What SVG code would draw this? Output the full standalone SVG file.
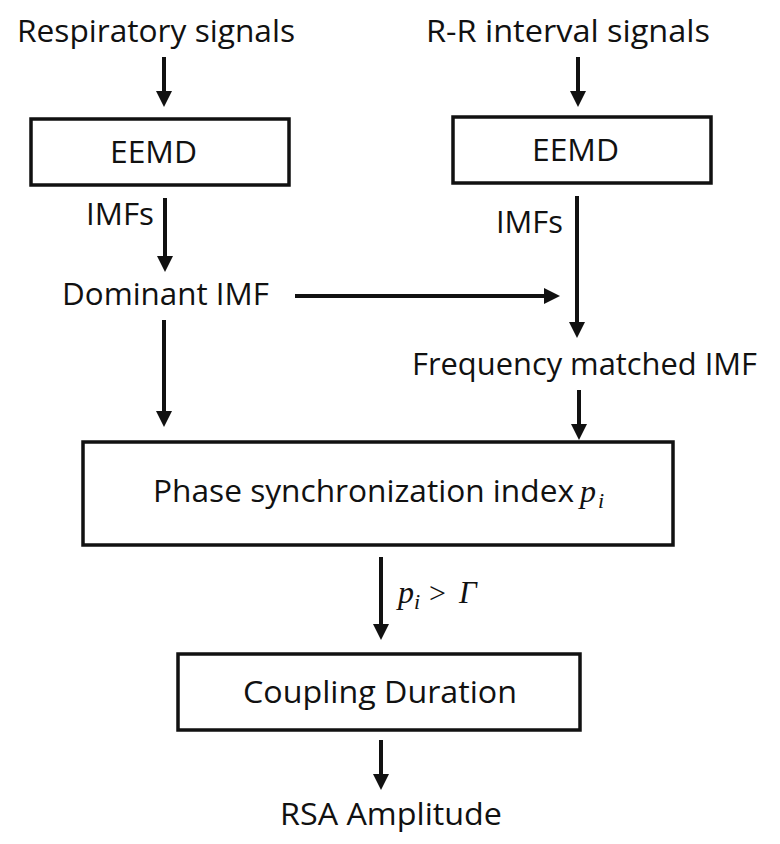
<svg xmlns="http://www.w3.org/2000/svg" width="780" height="844" viewBox="0 0 780 844">
<style>
.t{font-family:"Open Sans","Noto Sans","Liberation Sans",sans-serif;font-size:31px;fill:#111;}
.m{font-family:"Liberation Serif","DejaVu Serif",serif;font-style:italic;fill:#111;}
.box{fill:#fff;stroke:#111;stroke-width:3.5;}
.c line{stroke:#111;stroke-width:4;}
</style>
<defs>
<marker id="ah" viewBox="0 0 16 16" markerWidth="16" markerHeight="16" markerUnits="userSpaceOnUse" refX="4" refY="8" orient="auto">
<path d="M0,0 L16,8 L0,16 z" fill="#111"/>
</marker>
</defs>
<rect width="780" height="844" fill="#fff"/>
<g id="resp"><text class="t" x="17" y="42" textLength="278" lengthAdjust="spacingAndGlyphs">Respiratory signals</text></g>
<g id="rr"><text class="t" x="426" y="42" textLength="284" lengthAdjust="spacingAndGlyphs">R-R interval signals</text></g>
<g id="eemd1"><rect class="box" x="31" y="119" width="258" height="66"/><text class="t" x="110" y="163" textLength="87" lengthAdjust="spacingAndGlyphs">EEMD</text></g>
<g id="eemd2"><rect class="box" x="453" y="117" width="258" height="66"/><text class="t" x="532" y="161" textLength="87" lengthAdjust="spacingAndGlyphs">EEMD</text></g>
<g id="imfs1"><text class="t" x="86" y="225" textLength="68" lengthAdjust="spacingAndGlyphs">IMFs</text></g>
<g id="imfs2"><text class="t" x="496" y="233" textLength="67" lengthAdjust="spacingAndGlyphs">IMFs</text></g>
<g id="dominant"><text class="t" x="62" y="305" textLength="207" lengthAdjust="spacingAndGlyphs">Dominant IMF</text></g>
<g id="freq"><text class="t" x="412" y="375" textLength="345" lengthAdjust="spacingAndGlyphs">Frequency matched IMF</text></g>
<g id="phase"><rect class="box" x="83" y="442" width="590" height="103"/><text class="t" x="153" y="502" textLength="421" lengthAdjust="spacingAndGlyphs">Phase synchronization index</text><text class="m" x="580" y="502" font-size="32">p<tspan x="598" dy="6" font-size="22">i</tspan></text></g>
<g id="coupling"><rect class="box" x="178" y="654" width="402" height="76"/><text class="t" x="243" y="703" textLength="274" lengthAdjust="spacingAndGlyphs">Coupling Duration</text></g>
<g id="rsa"><text class="t" x="280" y="825" textLength="222" lengthAdjust="spacingAndGlyphs">RSA Amplitude</text></g>
<g class="c" id="connectors">
<line x1="164" y1="57" x2="164" y2="95" marker-end="url(#ah)"/>
<line x1="578" y1="57" x2="578" y2="95" marker-end="url(#ah)"/>
<line x1="165" y1="198" x2="165" y2="260" marker-end="url(#ah)"/>
<line x1="164" y1="320" x2="164" y2="415" marker-end="url(#ah)"/>
<line x1="295" y1="296" x2="548" y2="296" marker-end="url(#ah)"/>
<line x1="577" y1="196" x2="577" y2="326" marker-end="url(#ah)"/>
<line x1="579" y1="390" x2="579" y2="428" marker-end="url(#ah)"/>
<line x1="381" y1="557" x2="381" y2="628" marker-end="url(#ah)"/>
<line x1="381" y1="740" x2="381" y2="778" marker-end="url(#ah)"/>
<text class="m" x="398" y="603" font-size="32">p<tspan x="414" dy="6" font-size="22">i</tspan><tspan x="429" dy="-6" font-size="30" font-style="normal">&gt;</tspan><tspan x="459" font-size="31">Γ</tspan></text>
</g>
</svg>
